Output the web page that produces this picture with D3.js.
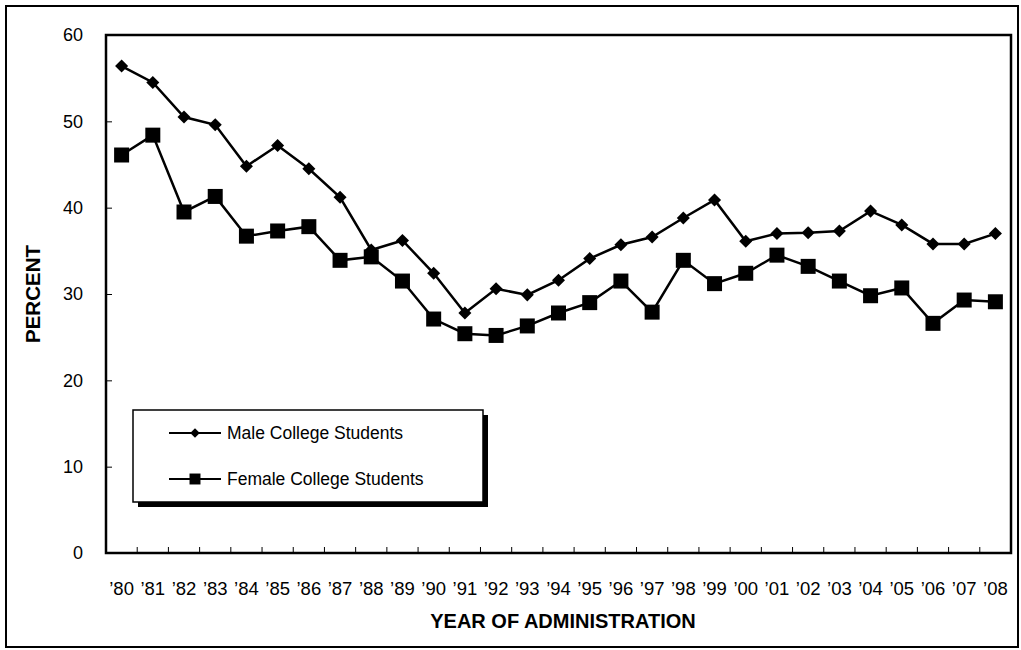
<!DOCTYPE html>
<html>
<head>
<meta charset="utf-8">
<script src="https://cdn.jsdelivr.net/npm/d3@7"></script>
<style>
	body { margin: 0; background: #fff; }
	text { font-family: "Liberation Sans", Arial, sans-serif; }
</style>
</head>
<body>
<svg width="1021" height="650"></svg>
<script>
var years = ["’80","’81","’82","’83","’84","’85","’86","’87","’88","’89","’90","’91","’92","’93","’94",
	"’95","’96","’97","’98","’99","’00","’01","’02","’03","’04","’05","’06","’07","’08"]
var male = [56.4, 54.5, 50.5, 49.6, 44.8, 47.2, 44.5, 41.2, 35.1, 36.2, 32.4, 27.8, 30.6, 29.9, 31.6,
	34.1, 35.7, 36.6, 38.8, 40.9, 36.1, 37.0, 37.1, 37.3, 39.6, 38.0, 35.8, 35.8, 37.0]
var female = [46.1, 48.4, 39.5, 41.3, 36.7, 37.3, 37.8, 33.9, 34.3, 31.5, 27.1, 25.4, 25.2, 26.3, 27.8,
	29.0, 31.5, 27.9, 33.9, 31.2, 32.4, 34.5, 33.2, 31.5, 29.8, 30.7, 26.6, 29.3, 29.1]
var yTicks = [0, 10, 20, 30, 40, 50, 60]
var seriesNames = ["Male College Students", "Female College Students"]

var svg = d3.select("svg")

// outer frame
svg.append("rect")
	.attr("x", 6).attr("y", 6)
	.attr("width", 1012).attr("height", 641)
	.attr("fill", "none")
	.attr("stroke", "#000")
	.attr("stroke-width", 2)

var plotLeft = 106, plotRight = 1011, plotTop = 35, plotBottom = 553

var x = d3.scaleBand()
	.domain(years)
	.range([plotLeft, plotRight])
var y = d3.scaleLinear()
	.domain([0, 60])
	.range([plotBottom, plotTop])

// y axis, ticks pointing inward
var yAxis = svg.append("g")
	.attr("transform", "translate(" + plotLeft + ",0)")
	.call(d3.axisLeft(y).tickValues(yTicks).tickSizeInner(-6).tickSizeOuter(0).tickPadding(23))
yAxis.select(".domain").remove()
yAxis.selectAll("line").attr("stroke", "#000").attr("stroke-width", 1)
yAxis.selectAll("text").attr("font-size", 18).attr("fill", "#000")

// x axis labels
var xAxis = svg.append("g")
	.attr("transform", "translate(0," + plotBottom + ")")
	.call(d3.axisBottom(x).tickSize(0).tickPadding(29))
xAxis.select(".domain").remove()
xAxis.selectAll("text").attr("font-size", 18.5).attr("fill", "#000")

// x ticks on band boundaries
svg.append("g")
	.selectAll("line")
	.data(years.slice(1))
	.enter()
	.append("line")
	.attr("x1", function(d) { return x(d) })
	.attr("x2", function(d) { return x(d) })
	.attr("y1", plotBottom)
	.attr("y2", plotBottom - 6)
	.attr("stroke", "#000")
	.attr("stroke-width", 1)

// plot frame
svg.append("rect")
	.attr("x", plotLeft).attr("y", plotTop)
	.attr("width", plotRight - plotLeft).attr("height", plotBottom - plotTop)
	.attr("fill", "none")
	.attr("stroke", "#000")
	.attr("stroke-width", 2.5)

// axis titles
svg.append("text")
	.attr("transform", "translate(40," + ((plotTop + plotBottom) / 2) + ") rotate(-90)")
	.attr("text-anchor", "middle")
	.attr("font-size", 20.5)
	.attr("font-weight", "bold")
	.text("PERCENT")
svg.append("text")
	.attr("x", 563)
	.attr("y", 628)
	.attr("text-anchor", "middle")
	.attr("font-size", 20)
	.attr("font-weight", "bold")
	.text("YEAR OF ADMINISTRATION")

var line = d3.line()
	.x(function(d, i) { return x(years[i]) + x.bandwidth() / 2 })
	.y(function(d) { return y(d) })

function drawSeries(values, rot, size) {
	svg.append("path")
		.datum(values)
		.attr("d", line)
		.attr("fill", "none")
		.attr("stroke", "#000")
		.attr("stroke-width", 2.5)
	svg.append("g")
		.selectAll("path")
		.data(values)
		.enter()
		.append("path")
		.attr("d", d3.symbol().type(d3.symbolSquare).size(size))
		.attr("transform", function(d, i) {
			return "translate(" + (x(years[i]) + x.bandwidth() / 2) + "," + y(d) + ") rotate(" + rot + ")"
		})
		.attr("fill", "#000")
}
drawSeries(male, 45, 85)
drawSeries(female, 0, 225)

// legend
var lg = svg.append("g")
lg.append("rect")
	.attr("x", 138).attr("y", 415)
	.attr("width", 350).attr("height", 92)
	.attr("fill", "#000")
lg.append("rect")
	.attr("x", 133).attr("y", 410)
	.attr("width", 350).attr("height", 92)
	.attr("fill", "#fff")
	.attr("stroke", "#000")
	.attr("stroke-width", 1.5)

var legendRows = [{ name: seriesNames[0], cy: 433, size: 45, rot: 45 },
	{ name: seriesNames[1], cy: 479, size: 120, rot: 0 }]
legendRows.forEach(function(r) {
	lg.append("line")
		.attr("x1", 169).attr("x2", 221)
		.attr("y1", r.cy).attr("y2", r.cy)
		.attr("stroke", "#000")
		.attr("stroke-width", 2)
	lg.append("path")
		.attr("d", d3.symbol().type(d3.symbolSquare).size(r.size))
		.attr("transform", "translate(195," + r.cy + ") rotate(" + r.rot + ")")
		.attr("fill", "#000")
	lg.append("text")
		.attr("x", 227)
		.attr("y", r.cy)
		.attr("dy", "0.35em")
		.attr("font-size", 17.5)
		.text(r.name)
})
</script>
</body>
</html>
